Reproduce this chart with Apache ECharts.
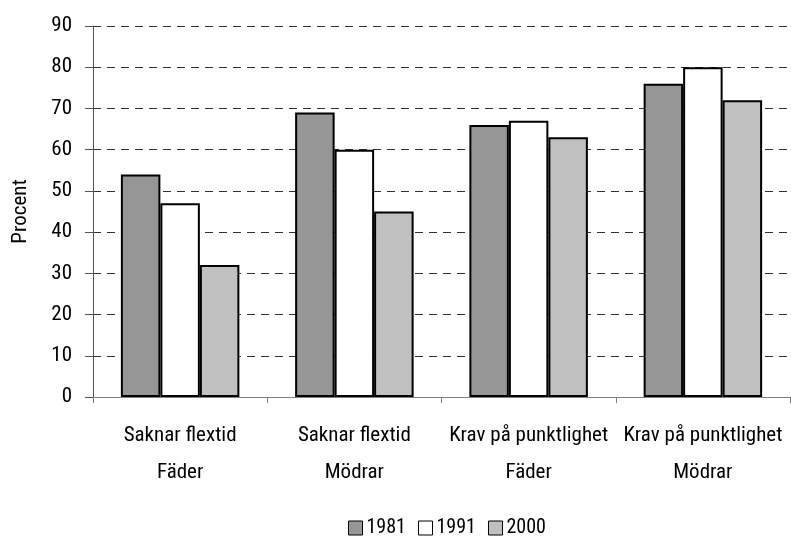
<!DOCTYPE html>
<html><head><meta charset="utf-8">
<script src="https://cdn.jsdelivr.net/npm/echarts@6/dist/echarts.min.js"></script>
<style>html,body{margin:0;padding:0;background:#fff}#c{width:791px;height:536px}</style>
</head><body><div id="c"></div>
<script>
const categories = ['Saknar flextid\nFäder', 'Saknar flextid\nMödrar', 'Krav på punktlighet\nFäder', 'Krav på punktlighet\nMödrar'];
const seriesNames = ['1981', '1991', '2000'];
const values1981 = [54, 69, 66, 76];
const values1991 = [47, 60, 67, 80];
const values2000 = [32, 45, 63, 72];
const colors = ['#969696', '#ffffff', '#c0c0c0'];
const font = '"Roboto Condensed", "DejaVu Sans Condensed", sans-serif';

const chart = echarts.init(document.getElementById('c'), null, {renderer: 'canvas'});
const data = [values1981, values1991, values2000];
chart.setOption({
  animation: false,
  textStyle: {fontFamily: font},
  grid: {left: 93, right: 1, top: 26, bottom: 139},
  legend: {
    left: 343, top: 513, itemWidth: 14, itemHeight: 14, itemGap: 12,
    textStyle: {fontFamily: font, fontSize: 20, color: '#000', padding: [0, 0, 0, -1]},
    data: seriesNames.map((n, i) => ({name: n, icon: 'rect', itemStyle: {color: colors[i], borderColor: '#000', borderWidth: 1}}))
  },
  xAxis: {
    type: 'category', data: categories,
    axisLine: {lineStyle: {color: '#808080', width: 1}},
    axisTick: {show: true, length: 6, lineStyle: {color: '#808080'}},
    axisLabel: {interval: 0, color: '#000', fontSize: 21, fontFamily: font, lineHeight: 37, margin: 20}
  },
  yAxis: {
    type: 'value', min: 0, max: 90, interval: 10,
    name: 'Procent', nameLocation: 'middle', nameGap: 62, nameRotate: 90,
    nameTextStyle: {fontFamily: font, fontSize: 21, color: '#000'},
    axisLine: {show: true, lineStyle: {color: '#555'}},
    axisTick: {show: true, length: 8, lineStyle: {color: '#555'}},
    axisLabel: {color: '#000', fontSize: 21, fontFamily: font, margin: 21},
    splitLine: {show: true, lineStyle: {color: '#333', type: [8, 6], width: 1}}
  },
  series: seriesNames.map((n, i) => ({
    name: n, type: 'bar', data: data[i],
    barGap: '0%', barCategoryGap: '32%',
    itemStyle: {color: colors[i], borderColor: '#000', borderWidth: 2}
  }))
});
</script></body></html>
